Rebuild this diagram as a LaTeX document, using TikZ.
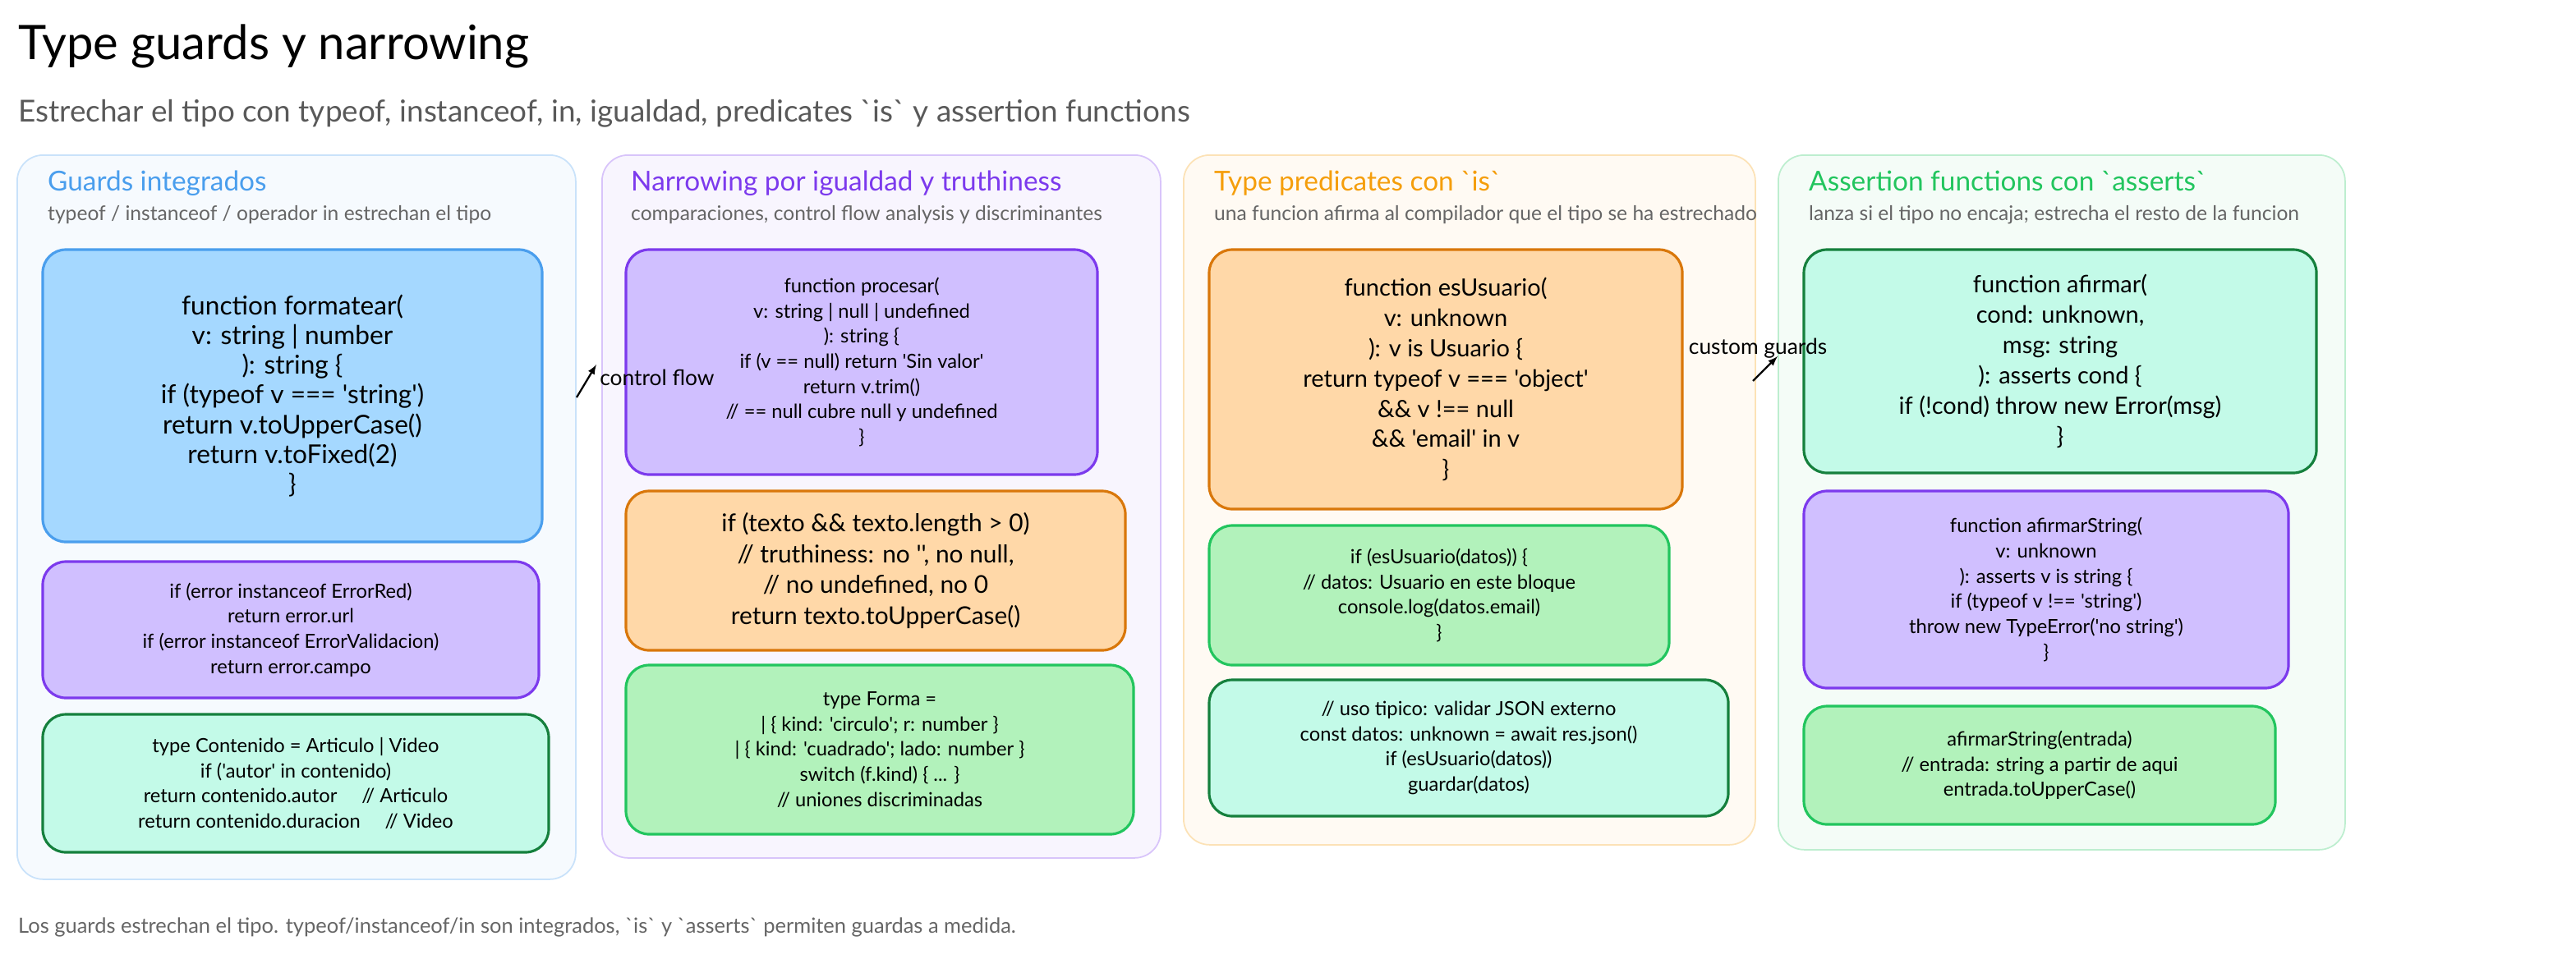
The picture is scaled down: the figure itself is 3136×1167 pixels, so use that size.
\documentclass[tikz,border=0pt]{standalone}
\usepackage{fontspec}
\setmainfont{Lato}[Ligatures=TeXOff]
\begin{document}
\begin{tikzpicture}[x=0.02cm,y=-0.02cm,
  panel/.style={draw=#1!30, fill=#1!5, line width=1pt, rounded corners=18pt, anchor=north west, inner sep=0pt},
  box/.style 2 args={draw=#1, fill=#2, line width=1.8pt, rounded corners=16pt, align=center, inner sep=0pt, text=black},
  big/.style={font=\fontsize{16.5}{21}\selectfont},
  small/.style={font=\fontsize{13.5}{17.5}\selectfont},
  ptitle/.style={anchor=base west, font=\fontsize{19}{22}\selectfont},
  psub/.style={anchor=base west, font=\fontsize{14}{16}\selectfont, text=black!60},
  arr/.style={-latex, line width=1.3pt},
  lbl/.style={font=\fontsize{15}{17}\selectfont}]
\definecolor{bS}{HTML}{4A9EED}\definecolor{bF}{HTML}{A5D8FF}
\definecolor{pS}{HTML}{7C3AED}\definecolor{pF}{HTML}{D0BFFF}
\definecolor{oS}{HTML}{D9770A}\definecolor{oF}{HTML}{FFD8A8}
\definecolor{gS}{HTML}{22C55E}\definecolor{gF}{HTML}{B2F2BB}
\definecolor{tS}{HTML}{15803D}\definecolor{tF}{HTML}{C3FAE8}
\definecolor{yS}{HTML}{F59E0B}
\useasboundingbox (0,0) rectangle (3136,1167);
\node[anchor=base west, font=\fontsize{33}{36}\selectfont] (title) at (16,72) {Type guards y narrowing};
\node[anchor=base west, font=\fontsize{21}{24}\selectfont, text=black!65] (sub) at (16,148) {Estrechar el tipo con typeof, instanceof, in, igualdad, predicates `is` y assertion functions};
% panels
\node[panel=bS, minimum width=680*0.02cm, minimum height=882*0.02cm] (p1) at (20,188) {};
\node[panel=pS, minimum width=680*0.02cm, minimum height=856*0.02cm] (p2) at (732,188) {};
\node[panel=yS, minimum width=696*0.02cm, minimum height=840*0.02cm] (p3) at (1440,188) {};
\node[panel=gS, minimum width=690*0.02cm, minimum height=846*0.02cm] (p4) at (2164,188) {};
\node[ptitle, text=bS] (t1) at (52,232) {Guards integrados};
\node[psub] (s1) at (52,268) {typeof / instanceof / operador in estrechan el tipo};
\node[ptitle, text=pS] (t2) at (762,232) {Narrowing por igualdad y truthiness};
\node[psub] (s2) at (762,268) {comparaciones, control flow analysis y discriminantes};
\node[ptitle, text=yS] (t3) at (1472,232) {Type predicates con `is`};
\node[psub] (s3) at (1472,268) {una funcion afirma al compilador que el tipo se ha estrechado};
\node[ptitle, text=gS] (t4) at (2196,232) {Assertion functions con `asserts`};
\node[psub] (s4) at (2196,268) {lanza si el tipo no encaja; estrecha el resto de la funcion};
% panel 1
\node[box={bS}{bF}, font=\fontsize{18}{20.5}\selectfont, minimum width=608*0.02cm, minimum height=356*0.02cm] (b1) at (356,482) {function formatear(\\v: string | number\\): string \{\\if (typeof v === 'string')\\return v.toUpperCase()\\return v.toFixed(2)\\\}};
\node[box={pS}{pF}, small, minimum width=604*0.02cm, minimum height=166*0.02cm] (b2) at (354,767) {if (error instanceof ErrorRed)\\return error.url\\if (error instanceof ErrorValidacion)\\return error.campo};
\node[box={tS}{tF}, small, minimum width=616*0.02cm, minimum height=168*0.02cm] (b3) at (360,954) {type Contenido = Articulo | Video\\if ('autor' in contenido)\\return contenido.autor \quad // Articulo\\return contenido.duracion \quad // Video};
% panel 2
\node[box={pS}{pF}, small, minimum width=574*0.02cm, minimum height=274*0.02cm] (c1) at (1049,441) {function procesar(\\v: string | null | undefined\\): string \{\\if (v == null) return 'Sin valor'\\return v.trim()\\// == null cubre null y undefined\\\}};
\node[box={oS}{oF}, font=\fontsize{17}{21.5}\selectfont, minimum width=608*0.02cm, minimum height=194*0.02cm] (c2) at (1066,695) {if (texto \&\& texto.length > 0)\\// truthiness: no '', no null,\\// no undefined, no 0\\return texto.toUpperCase()};
\node[box={gS}{gF}, small, minimum width=618*0.02cm, minimum height=206*0.02cm] (c3) at (1071,913) {type Forma =\\| \{ kind: 'circulo'; r: number \}\\| \{ kind: 'cuadrado'; lado: number \}\\switch (f.kind) \{ ... \}\\// uniones discriminadas};
% panel 3
\node[box={oS}{oF}, big, minimum width=576*0.02cm, minimum height=316*0.02cm] (d1) at (1760,462) {function esUsuario(\\v: unknown\\): v is Usuario \{\\return typeof v === 'object'\\\&\& v !== null\\\&\& 'email' in v\\\}};
\node[box={gS}{gF}, small, minimum width=560*0.02cm, minimum height=170*0.02cm] (d2) at (1752,725) {if (esUsuario(datos)) \{\\// datos: Usuario en este bloque\\console.log(datos.email)\\\}};
\node[box={tS}{tF}, small, minimum width=632*0.02cm, minimum height=166*0.02cm] (d3) at (1788,911) {// uso tipico: validar JSON externo\\const datos: unknown = await res.json()\\if (esUsuario(datos))\\guardar(datos)};
% panel 4
\node[box={tS}{tF}, big, minimum width=624*0.02cm, minimum height=272*0.02cm] (e1) at (2508,440) {function afirmar(\\cond: unknown,\\msg: string\\): asserts cond \{\\if (!cond) throw new Error(msg)\\\}};
\node[box={pS}{pF}, small, minimum width=590*0.02cm, minimum height=240*0.02cm] (e2) at (2491,718) {function afirmarString(\\v: unknown\\): asserts v is string \{\\if (typeof v !== 'string')\\throw new TypeError('no string')\\\}};
\node[box={gS}{gF}, small, minimum width=574*0.02cm, minimum height=144*0.02cm] (e3) at (2483,932) {afirmarString(entrada)\\// entrada: string a partir de aqui\\entrada.toUpperCase()};
% connectors
\coordinate (a1s) at (702,484);
\coordinate (a1e) at (726,444);
\draw[arr] (a1s) -- (a1e);
\node[lbl, anchor=west, inner sep=0pt] (l1) at (730,460) {control flow};
\coordinate (a2s) at (2134,464);
\coordinate (a2e) at (2164,434);
\draw[arr] (a2s) -- (a2e);
\node[lbl, inner sep=0pt] (l2) at (2140,424) {custom guards};
\node[anchor=base west, font=\fontsize{14.5}{16}\selectfont, text=black!60] (foot) at (16,1136) {Los guards estrechan el tipo. typeof/instanceof/in son integrados, `is` y `asserts` permiten guardas a medida.};
\end{tikzpicture}
\end{document}
